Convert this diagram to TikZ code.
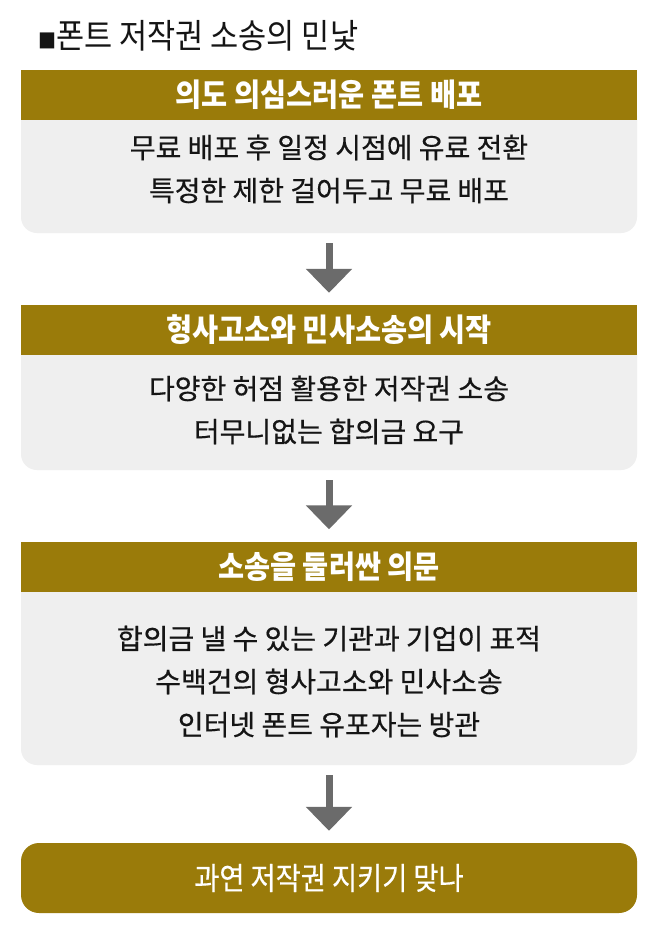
\documentclass[tikz,border=0pt]{standalone}
\usepackage{fontspec}
\newfontfamily\kr[FakeStretch=0.9]{Noto Sans CJK KR}
\newfontfamily\krbody[FakeBold=0.5]{Noto Sans CJK KR}
\newfontfamily\krfinal[FakeStretch=0.88,FakeBold=0.4]{Noto Sans CJK KR}
\usetikzlibrary{arrows.meta}
\definecolor{gold}{HTML}{9A7B0A}
\definecolor{panelgray}{HTML}{EFEFEF}
\definecolor{arrowgray}{HTML}{6B6B6B}
\definecolor{ink}{HTML}{151515}
\begin{document}
\begin{tikzpicture}[x=1pt,y=-1pt,
  header/.style={fill=gold, minimum width=616pt, minimum height=50pt, inner sep=0pt,
    text=white, font=\kr\bfseries\fontsize{31.5}{31.5}\selectfont},
  panel/.style={fill=panelgray, rounded corners=16pt, minimum width=616pt, inner sep=0pt},
  bodytext/.style={align=center, text=ink, inner sep=0pt,
    font=\krbody\fontsize{28}{43}\selectfont},
  flow/.style={draw=arrowgray, line width=7pt,
    -{Triangle[width=45pt,length=24pt]}, shorten <=10pt, shorten >=12pt},
  finalbox/.style={fill=gold, rounded corners=18pt, minimum width=616pt, minimum height=70pt,
    inner sep=0pt, text=white, font=\krfinal\fontsize{31}{31}\selectfont}]
\useasboundingbox[fill=white] (0,0) rectangle (658,934);

% title
\node[anchor=west, inner sep=0pt, text=ink, font=\kr\fontsize{34}{34}\selectfont] (title) at (38,36)
  {{\fontsize{20}{20}\selectfont ■}폰트 저작권 소송의 민낯};

% box 1
\node[panel, minimum height=133pt] (body1) at (329,166.5) {};
\node[header] (head1) at (329,95) {의도 의심스러운 폰트 배포};
\node[bodytext] (text1) at (329,169) {무료 배포 후 일정 시점에 유료 전환\\특정한 제한 걸어두고 무료 배포};

% box 2
\node[panel, minimum height=135pt] (body2) at (329,402.5) {};
\node[header] (head2) at (329,330) {형사고소와 민사소송의 시작};
\node[bodytext] (text2) at (329,410) {다양한 허점 활용한 저작권 소송\\터무니없는 합의금 요구};

% box 3
\node[panel, minimum height=194pt] (body3) at (329,668) {};
\node[header] (head3) at (329,566.5) {소송을 둘러싼 의문};
\node[bodytext] (text3) at (329,681.5) {합의금 낼 수 있는 기관과 기업이 표적\\수백건의 형사고소와 민사소송\\인터넷 폰트 유포자는 방관};

% final
\node[finalbox] (final) at (329,878) {과연 저작권 지키기 맞나};

% arrows
\draw[flow] (body1.south) -- (head2.north);
\draw[flow] (body2.south) -- (head3.north);
\draw[flow] (body3.south) -- (final.north);
\end{tikzpicture}
\end{document}
